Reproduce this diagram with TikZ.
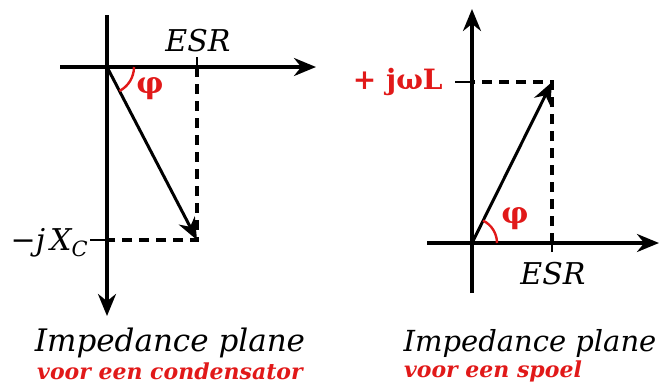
\documentclass[tikz,border=0pt]{standalone}
\usepackage{fontspec}
\setmainfont{DejaVu Serif}
\usepackage{xcolor}
\usetikzlibrary{arrows.meta, positioning}
\definecolor{phired}{RGB}{225,25,25}

\begin{document}
\begin{tikzpicture}[x=0.5pt, y=0.5pt]
    \tikzstyle{axis} = [line width=1.75pt, -{Stealth[length=11pt, width=9pt]}]
    \tikzstyle{vec} = [line width=1.5pt, -{Stealth[length=11pt, width=9pt]}]
    \tikzstyle{guide} = [line width=1.75pt, dash pattern=on 5pt off 3.5pt]
    \tikzstyle{tick} = [line width=1.25pt]
    \tikzstyle{anglearc} = [line width=1.2pt, draw=phired]
    \tikzstyle{phi} = [font=\bfseries\fontsize{15}{17}\selectfont, text=phired]
    \tikzstyle{redlbl} = [font=\bfseries\fontsize{14}{16}\selectfont, text=phired]
    \tikzstyle{axlabel} = [font=\itshape\fontsize{15}{17}\selectfont]
    \tikzstyle{title} = [font=\itshape\fontsize{15.5}{18}\selectfont]
    \tikzstyle{subtitle} = [font=\bfseries\itshape\fontsize{11}{13}\selectfont, text=phired]

    \useasboundingbox (0,0) rectangle (660,388);

    % condensator
    \coordinate (o1) at (107,321);
    \coordinate (p1) at (197,148);
    \coordinate (esr1) at (197,321);
    \coordinate (xc1) at (107,148);
    \draw[axis] (107,373) -- (107,72);
    \draw[axis] (60,321) -- (316,321);
    \draw[tick] (197,331) -- (esr1);
    \draw[tick] (90,148) -- (xc1);
    \draw[guide] (esr1) -- (p1) -- (xc1);
    \draw[vec] (o1) -- (p1);
    \draw[anglearc] (o1) ++(27,0) arc[start angle=0, end angle=-62.5, radius=27];
    \node (phi1) [phi] at (150,300) {φ};
    \node (esrlbl1) [axlabel] at (198,347) {ESR};
    \node (xclbl) [axlabel, anchor=east, inner sep=1pt] at (91,145) {−j\,X\textsubscript{\itshape C}};

    % spoel
    \coordinate (o2) at (472,145);
    \coordinate (p2) at (552,306);
    \coordinate (esr2) at (552,145);
    \coordinate (xl2) at (472,306);
    \draw[axis] (472,95) -- (472,379);
    \draw[axis] (427,145) -- (659,145);
    \draw[tick] (552,136) -- (552,150);
    \draw[tick] (455,306) -- (xl2);
    \draw[guide] (esr2) -- (p2) -- (xl2);
    \draw[vec] (o2) -- (p2);
    \draw[anglearc] (o2) ++(25,0) arc[start angle=0, end angle=63.6, radius=25];
    \node (phi2) [phi] at (515,170) {φ};
    \node (esrlbl2) [axlabel] at (553,114) {ESR};
    \node (xllbl) [redlbl, anchor=east, inner sep=1pt] at (445,306) {+ jωL};

    % captions
    \node (cap1) [title] at (170,45) {Impedance plane};
    \node (sub1) [subtitle] at (170,17) {voor een condensator};
    \node (cap2) [title, font=\itshape\fontsize{14.5}{17}\selectfont] at (530,45) {Impedance plane};
    \node (sub2) [subtitle, anchor=west] at (397,17) {voor een spoel};
\end{tikzpicture}
\end{document}
